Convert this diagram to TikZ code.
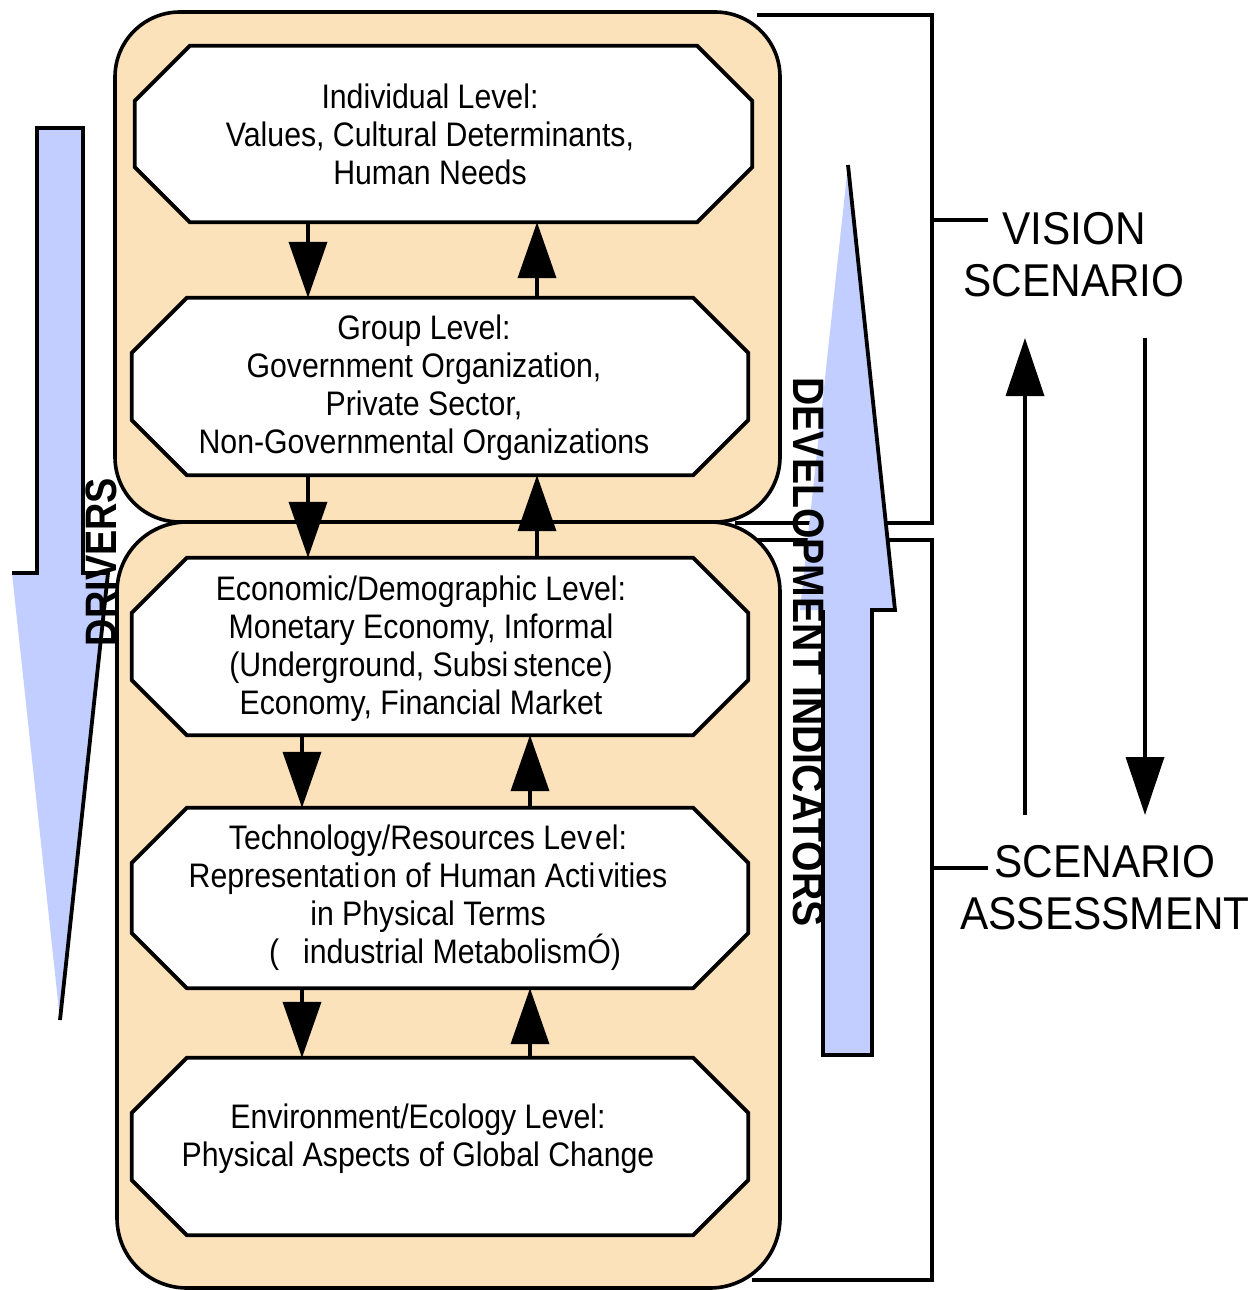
\documentclass[tikz,border=0pt]{standalone}
\usepackage{fontspec}
\setmainfont[FakeStretch=0.89]{Liberation Sans}
\newfontfamily\sidefont[FakeStretch=0.92]{Liberation Sans}
\newfontfamily\lblfont[FakeStretch=0.86]{Liberation Sans}
\newfontfamily\devfont[FakeStretch=0.89]{Liberation Sans}
\usetikzlibrary{arrows.meta,calc}
\definecolor{peach}{RGB}{252,226,186}
\definecolor{lblue}{RGB}{194,206,255}
\newcommand\octo[1]{%
  \draw[octline] ([xshift=55pt]#1.north west) -- ([xshift=-55pt]#1.north east)
    -- ([yshift=-55pt]#1.north east) -- ([yshift=55pt]#1.south east)
    -- ([xshift=-55pt]#1.south east) -- ([xshift=55pt]#1.south west)
    -- ([yshift=55pt]#1.south west) -- ([yshift=-55pt]#1.north west) -- cycle;}
\begin{document}
\begin{tikzpicture}[x=1pt,y=-1pt,line join=miter,
  panel/.style={draw=black,line width=3.6pt,fill=peach},
  octline/.style={draw=black,line width=3.8pt,fill=white},
  boxarea/.style={draw=none,inner sep=0pt,minimum width=616pt},
  boxtxt/.style={align=center,inner sep=0pt,font=\fontsize{34}{38}\selectfont},
  flow/.style={line width=3.8pt,-{Triangle[length=56pt,width=38pt]}},
  sideflow/.style={line width=3.6pt,-{Triangle[length=58pt,width=38pt]}},
  bigarrow/.style={fill=lblue,draw=none},
  outline/.style={line width=3.8pt},
  bracket/.style={line width=3.6pt},
  sidelbl/.style={align=center,inner sep=0pt,font=\sidefont\fontsize{46}{52}\selectfont},
  vlbl/.style={inner sep=0pt,font=\lblfont\bfseries\fontsize{44}{44}\selectfont},
  devlbl/.style={inner sep=0pt,font=\devfont\bfseries\fontsize{44}{44}\selectfont}]
\useasboundingbox[fill=white] (0,0) rectangle (1255,1290);

% panels
\draw[panel,rounded corners=65pt] (115,12) rectangle (780,522);
\draw[panel,rounded corners=70pt] (117,522) rectangle (780,1288);

% brackets
\draw[bracket] (757,15) -- (932,15) -- (932,523) -- (735,523);
\draw[bracket] (757,540) -- (932,540) -- (932,1280) -- (752,1280);
\draw[bracket] (932,220) -- (988,220);
\draw[bracket] (932,868) -- (988,868);

% big arrows
\fill[bigarrow] (37,128) -- (83,128) -- (83,573) -- (108,573) -- (60,1020) -- (12,573) -- (37,573) -- cycle;
\draw[outline] (12,573) -- (37,573) -- (37,128) -- (83,128) -- (83,573) -- (108,573) -- (60,1020);
\fill[bigarrow] (848,165) -- (895,610) -- (872,610) -- (872,1055) -- (823,1055) -- (823,610) -- (800,610) -- cycle;
\draw[outline] (848,165) -- (895,610) -- (872,610) -- (872,1055) -- (823,1055) -- (823,610);

% boxes
\node[boxarea,minimum width=617pt,minimum height=176pt] (b1) at (443.5,134) {};
\node[boxarea,minimum height=177pt] (b2) at (440,386.5) {};
\node[boxarea,minimum height=177pt] (b3) at (440,646.5) {};
\node[boxarea,minimum height=180pt] (b4) at (440,898) {};
\node[boxarea,minimum height=177pt] (b5) at (440,1146.5) {};
\octo{b1}\octo{b2}\octo{b3}\octo{b4}\octo{b5}

\node[boxtxt] (t1) at (430,134) {Individual Level:\\Values, Cultural Determinants,\\Human Needs};
\node[boxtxt] (t2) at (424,387.5) {Group Level:\\Government Organization,\\Private Sector,\\Non-Governmental Organizations};
\node[boxtxt] (t3) at (421,649) {Economic/Demographic Level:\\Monetary Economy, Informal\\(Underground, Subsi\kern5pt stence)\\Economy, Financial Market};
\node[boxtxt] (t4) at (428,898) {Technology/Resources Lev\kern3pt el:\\Representati\kern3pt on of Human Acti\kern3pt vities\\in Physical Terms\\\hspace*{34pt}(\hspace{24pt}industrial MetabolismÓ)};
\node[boxtxt] (t5) at (418,1139) {Environment/Ecology Level:\\Physical Aspects of Global Change};

% flow arrows
\coordinate (dA) at (308,0);
\coordinate (uA) at (537,0);
\coordinate (dB) at (302,0);
\coordinate (uB) at (530,0);
\draw[flow] (b1.south -| dA) -- (b2.north -| dA);
\draw[flow] (b2.north -| uA) -- (b1.south -| uA);
\draw[flow] (b2.south -| dA) -- (b3.north -| dA);
\draw[flow] (b3.north -| uA) -- (b2.south -| uA);
\draw[flow] (b3.south -| dB) -- (b4.north -| dB);
\draw[flow] (b4.north -| uB) -- (b3.south -| uB);
\draw[flow] (b4.south -| dB) -- (b5.north -| dB);
\draw[flow] (b5.north -| uB) -- (b4.south -| uB);

% vertical labels
\node[vlbl,rotate=90] (drv) at (101,562) {DRIVERS};
\node[devlbl,rotate=-90] (dev) at (809,652) {DEVELOPMENT INDICATORS};

% side labels
\node[sidelbl] (vis) at (1074,254.5) {VISION\\SCENARIO};
\node[sidelbl] (ass) at (1105,887.5) {SCENARIO\\ASSESSMENT};

% side arrows
\coordinate (va1) at (1025,815);
\coordinate (va2) at (1025,338);
\coordinate (vb1) at (1145,338);
\coordinate (vb2) at (1145,815);
\draw[sideflow] (va1) -- (va2);
\draw[sideflow] (vb1) -- (vb2);
\end{tikzpicture}
\end{document}
